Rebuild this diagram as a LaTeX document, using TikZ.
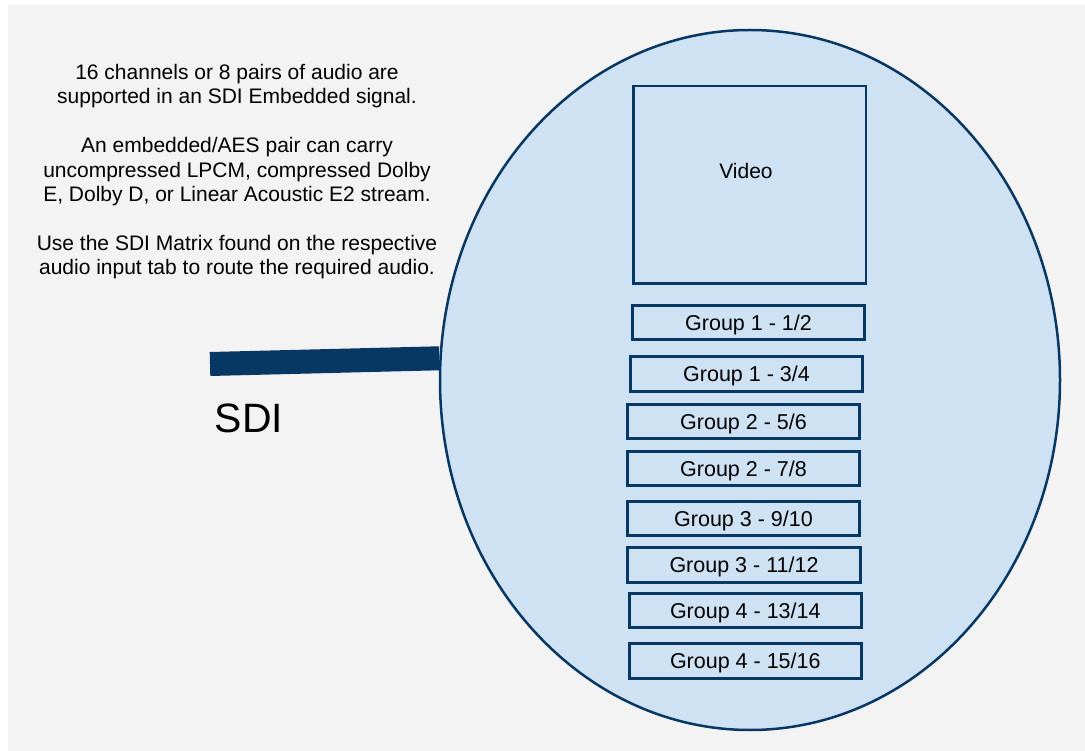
\documentclass[tikz,border=0pt]{standalone}
\usepackage{fontspec}
\setmainfont{Liberation Sans}
\usetikzlibrary{shapes.geometric}
\definecolor{bggray}{HTML}{F3F3F3}
\definecolor{sdiblue}{HTML}{073763}
\definecolor{sdifill}{HTML}{CFE2F3}

\begin{document}
\begin{tikzpicture}[x=1pt,y=-1pt,
    signal/.style={draw=sdiblue,fill=sdifill,ellipse,line width=2.5pt,inner sep=0pt,
      minimum width=620pt,minimum height=700pt},
    videobox/.style={draw=sdiblue,line width=2.5pt,inner sep=0pt,
      minimum width=232.5pt,minimum height=197.5pt},
    group/.style={draw=sdiblue,line width=3pt,inner sep=0pt,text depth=0pt,
      minimum width=232.5pt,minimum height=34.5pt,font=\fontsize{21.5}{24}\selectfont}]
  \useasboundingbox (0,0) rectangle (1085,751);
  \fill[white] (0,0) rectangle (1085,751);
  \fill[bggray] (8,5) rectangle (1085,751);

  \node[anchor=north,align=center,inner sep=0pt,font=\fontsize{21}{24.3}\selectfont] (notes) at (237,64.2)
    {16 channels or 8 pairs of audio are\\
     supported in an SDI Embedded signal.\\[24.5pt]
     An embedded/AES pair can carry\\
     uncompressed LPCM, compressed Dolby\\
     E, Dolby D, or Linear Acoustic E2 stream.\\[24.5pt]
     Use the SDI Matrix found on the respective\\
     audio input tab to route the required audio.};

  \node[signal]   (sdi)      at (750,380)     {};
  \node[videobox] (video)    at (749.5,185)   {};
  \node[font=\fontsize{21}{24}\selectfont] (videolbl) at (746,170.5) {Video};
  \node[group]    (g1)       at (748.5,322.5) {Group 1 - 1/2};
  \node[group]    (g2)       at (746.5,374)   {Group 1 - 3/4};
  \node[group]    (g3)       at (743.5,421.5) {Group 2 - 5/6};
  \node[group]    (g4)       at (743.5,468.5) {Group 2 - 7/8};
  \node[group]    (g5)       at (743.5,518.5) {Group 3 - 9/10};
  \node[group]    (g6)       at (744,565)     {Group 3 - 11/12};
  \node[group]    (g7)       at (745.3,610.5) {Group 4 - 13/14};
  \node[group]    (g8)       at (745.3,661)   {Group 4 - 15/16};

  % SDI input
  \coordinate (sdistart) at (210,364);
  \draw[sdiblue,line width=24pt] (sdistart) -- (sdi.176.5);
  \node[font=\fontsize{41}{48}\selectfont] (sdilbl) at (249,418.7) {SDI};
\end{tikzpicture}
\end{document}
